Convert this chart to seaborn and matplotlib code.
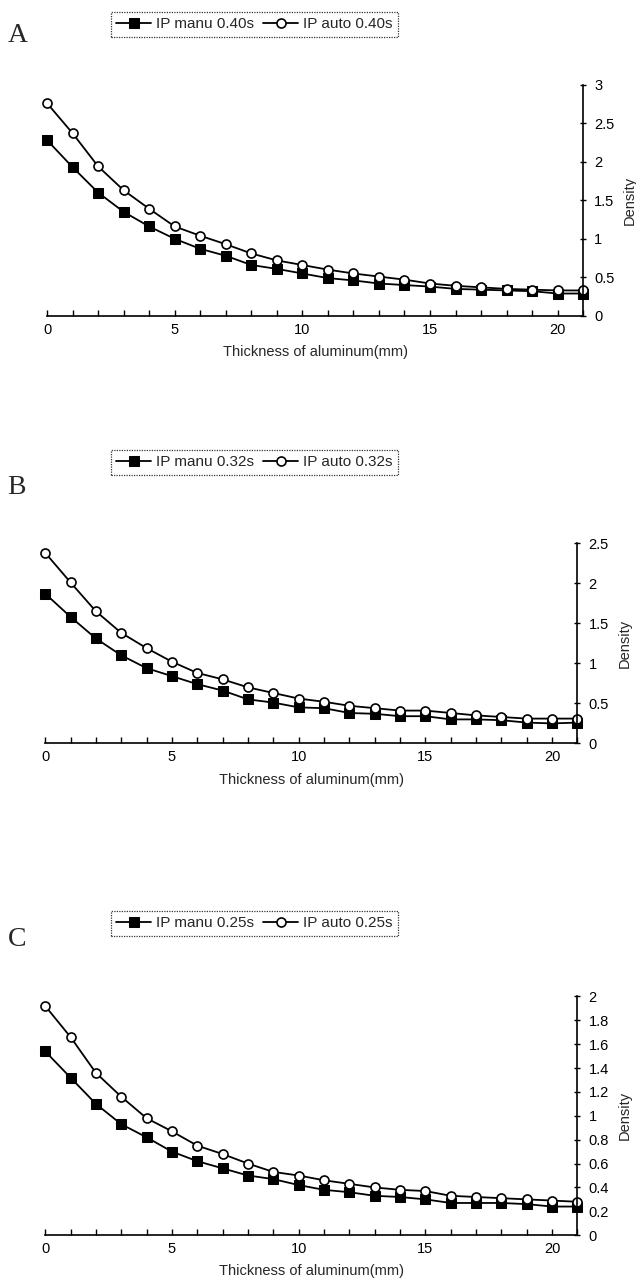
import numpy as np
import pandas as pd
import matplotlib
matplotlib.use('Agg')
import matplotlib.pyplot as plt
import seaborn as sns
from matplotlib.ticker import MultipleLocator, FixedLocator

'''
Data (read off the scanned figure)
'''

thickness = list(range(22))  # mm of aluminum

manu_040 = [2.28, 1.93, 1.60, 1.35, 1.16, 1.00, 0.87, 0.78, 0.66, 0.61, 0.55,
            0.49, 0.46, 0.42, 0.40, 0.38, 0.35, 0.34, 0.33, 0.32, 0.29, 0.29]
auto_040 = [2.76, 2.37, 1.94, 1.63, 1.39, 1.16, 1.04, 0.93, 0.81, 0.72, 0.66,
            0.60, 0.55, 0.51, 0.47, 0.42, 0.39, 0.37, 0.35, 0.34, 0.33, 0.33]

manu_032 = [1.87, 1.58, 1.31, 1.10, 0.94, 0.84, 0.74, 0.66, 0.55, 0.51, 0.45,
            0.44, 0.38, 0.37, 0.34, 0.34, 0.30, 0.30, 0.29, 0.26, 0.25, 0.26]
auto_032 = [2.38, 2.01, 1.65, 1.38, 1.19, 1.02, 0.88, 0.80, 0.70, 0.63, 0.56,
            0.52, 0.47, 0.44, 0.41, 0.41, 0.38, 0.35, 0.33, 0.31, 0.31, 0.31]

manu_025 = [1.54, 1.32, 1.10, 0.93, 0.82, 0.70, 0.62, 0.56, 0.50, 0.47, 0.42,
            0.38, 0.36, 0.33, 0.32, 0.30, 0.27, 0.27, 0.27, 0.26, 0.24, 0.24]
auto_025 = [1.92, 1.66, 1.36, 1.16, 0.98, 0.87, 0.75, 0.68, 0.60, 0.53, 0.50,
            0.46, 0.43, 0.40, 0.38, 0.37, 0.33, 0.32, 0.31, 0.30, 0.29, 0.28]

panels = ['A', 'B', 'C']
exposures = ['0.40s', '0.32s', '0.25s']
manu_series = [manu_040, manu_032, manu_025]
auto_series = [auto_040, auto_032, auto_025]
y_max = [3, 2.5, 2]
y_step = [0.5, 0.5, 0.2]

'''
Plot
'''

sns.set_style('white')
plt.rcParams['font.family'] = ['Liberation Sans', 'DejaVu Sans']

fig = plt.figure(figsize=(6.36, 12.84), dpi=100)

# axes boxes in figure fractions [left, bottom, width, height]
boxes = [
    [0.074, 0.754, 0.843, 0.180],
    [0.071, 0.421, 0.837, 0.156],
    [0.071, 0.038, 0.837, 0.186],
]
legend_y = [0.981, 0.640, 0.281]
letter_y = [0.972, 0.620, 0.268]

for i, name in enumerate(panels):
    ax = fig.add_axes(boxes[i])
    df = pd.DataFrame({'Thickness': thickness,
                       'manu': manu_series[i],
                       'auto': auto_series[i]})

    sns.lineplot(data=df, x='Thickness', y='manu', ax=ax, color='black',
                 linewidth=1.3, marker='s', markersize=6.5,
                 markerfacecolor='black', markeredgecolor='black',
                 label=f'IP manu {exposures[i]}')
    sns.lineplot(data=df, x='Thickness', y='auto', ax=ax, color='black',
                 linewidth=1.3, marker='o', markersize=6.5,
                 markerfacecolor='white', markeredgecolor='black',
                 markeredgewidth=1.2, label=f'IP auto {exposures[i]}')

    ax.set_xlim(0, 21)
    ax.set_ylim(0, y_max[i])
    for m in ax.lines:
        m.set_clip_on(False)

    # spines: bottom + right only
    for s in ['top', 'left']:
        ax.spines[s].set_visible(False)
    for s in ['bottom', 'right']:
        ax.spines[s].set_color('black')
        ax.spines[s].set_linewidth(1.2)

    ax.yaxis.tick_right()
    ax.yaxis.set_label_position('right')
    ax.yaxis.set_major_locator(MultipleLocator(y_step[i]))
    ax.yaxis.set_major_formatter(plt.FuncFormatter(lambda v, p: f'{v:g}'))
    ax.tick_params(axis='y', direction='inout', length=4, width=1,
                   labelsize=10.5, pad=6, colors='black')

    ax.xaxis.set_major_locator(FixedLocator([0, 5, 10, 15, 20]))
    ax.xaxis.set_minor_locator(MultipleLocator(1))
    ax.tick_params(axis='x', which='both', direction='in', length=4, width=1,
                   labelsize=10.5, pad=5, colors='black', bottom=True)

    ax.set_xlabel('Thickness of aluminum(mm)', fontsize=10.5, labelpad=6)
    ax.set_ylabel('Density', fontsize=10.5, labelpad=6)

    leg = ax.legend(loc='center', bbox_to_anchor=(0.4, legend_y[i]),
                    bbox_transform=fig.transFigure, ncol=2, frameon=True,
                    fancybox=False, fontsize=11, handlelength=2.3,
                    handletextpad=0.3, columnspacing=0.6, borderpad=0.35)
    frame = leg.get_frame()
    frame.set_edgecolor('black')
    frame.set_linestyle((0, (1, 1)))
    frame.set_linewidth(0.9)

    fig.text(0.012, letter_y[i], name, fontsize=20,
             family=['Liberation Serif', 'DejaVu Serif'], ha='left', va='center')

plt.savefig('out.png', dpi=100)
